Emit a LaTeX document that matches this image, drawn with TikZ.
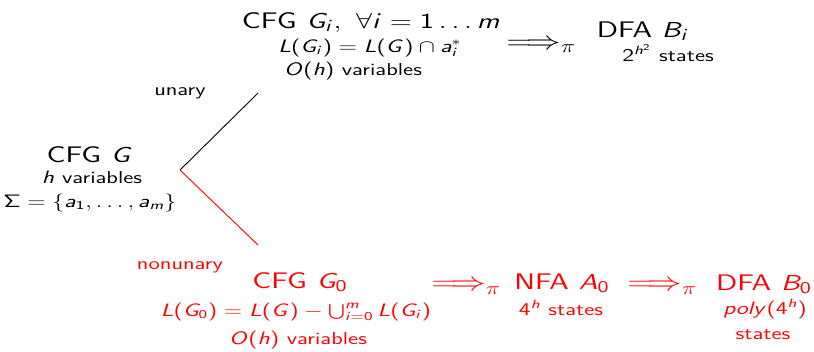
\documentclass[tikz,border=0pt]{standalone}
\DeclareSymbolFont{operators}{OT1}{cmss}{m}{n}
\DeclareSymbolFont{sfletters}{OT1}{cmss}{m}{it}
\DeclareMathSymbol{L}{\mathalpha}{sfletters}{`L}
\DeclareMathSymbol{G}{\mathalpha}{sfletters}{`G}
\DeclareMathSymbol{O}{\mathalpha}{sfletters}{`O}
\DeclareMathSymbol{B}{\mathalpha}{sfletters}{`B}
\DeclareMathSymbol{A}{\mathalpha}{sfletters}{`A}
\DeclareMathSymbol{i}{\mathalpha}{sfletters}{`i}
\DeclareMathSymbol{a}{\mathalpha}{sfletters}{`a}
\DeclareMathSymbol{h}{\mathalpha}{sfletters}{`h}
\DeclareMathSymbol{m}{\mathalpha}{sfletters}{`m}
\DeclareMathSymbol{p}{\mathalpha}{sfletters}{`p}
\DeclareMathSymbol{o}{\mathalpha}{sfletters}{`o}
\DeclareMathSymbol{l}{\mathalpha}{sfletters}{`l}
\DeclareMathSymbol{y}{\mathalpha}{sfletters}{`y}
\begin{document}
\begin{tikzpicture}[x=0.4975pt, y=-0.6667pt, xscale=1.34, transform shape,
  lbl/.style={inner sep=0pt, anchor=base, font=\sffamily\fontsize{11.5}{14}\selectfont},
  big/.style={lbl, font=\sffamily\fontsize{15}{18}\selectfont},
  arr/.style={inner sep=0pt, anchor=base west, font=\sffamily\fontsize{17}{20}\selectfont},
  conn/.style={line width=0.6pt}]
\useasboundingbox (0,0) rectangle (814,351);
% top branch
\node[big] (t1) at (371,28) {CFG $G_i,\ \forall i=1\ldots m$};
\node[lbl] (t2) at (370,52) {$L(G_i)=L(G)\cap a_i^*$};
\node[lbl] (t3) at (353,75) {$O(h)$ variables};
\node[arr] (a1) at (506,49) {$\Longrightarrow_\pi$};
\node[big] (b1) at (643,37) {DFA $B_i$};
\node[lbl] (b2) at (668,61) {$2^{h^2}$ states};
% source grammar
\node[big] (g1) at (90,162) {CFG $G$};
\node[lbl] (g2) at (92,183) {$h$ variables};
\node[lbl] (g3) at (90,207) {$\Sigma=\{a_1,\ldots,a_m\}$};
\coordinate (J) at (180,170);
\coordinate (U) at (258,93);
\coordinate (N) at (258,245);
\draw[conn] (J) -- (U);
\draw[conn, red] (J) -- (N);
\node[lbl] (un) at (180,95) {unary};
\node[lbl, text=red] (nu) at (180,269) {nonunary};
% bottom branch
\node[big, text=red] (c1) at (300,288) {CFG $G_0$};
\node[lbl, text=red] (c2) at (296,316) {$L(G_0)=L(G)-\bigcup_{i=0}^m L(G_i)$};
\node[lbl, text=red] (c3) at (298,344) {$O(h)$ variables};
\node[arr, text=red] (a2) at (431,290.5) {$\Longrightarrow_\pi$};
\node[big, text=red] (n1) at (562,289) {NFA $A_0$};
\node[lbl, text=red] (n2) at (561,315) {$4^h$ states};
\node[arr, text=red] (a3) at (627,290.5) {$\Longrightarrow_\pi$};
\node[big, text=red] (d1) at (764,290) {DFA $B_0$};
\node[lbl, text=red] (d2) at (765,314) {$poly(4^h)$};
\node[lbl, text=red] (d3) at (763,339) {states};
\end{tikzpicture}
\end{document}
